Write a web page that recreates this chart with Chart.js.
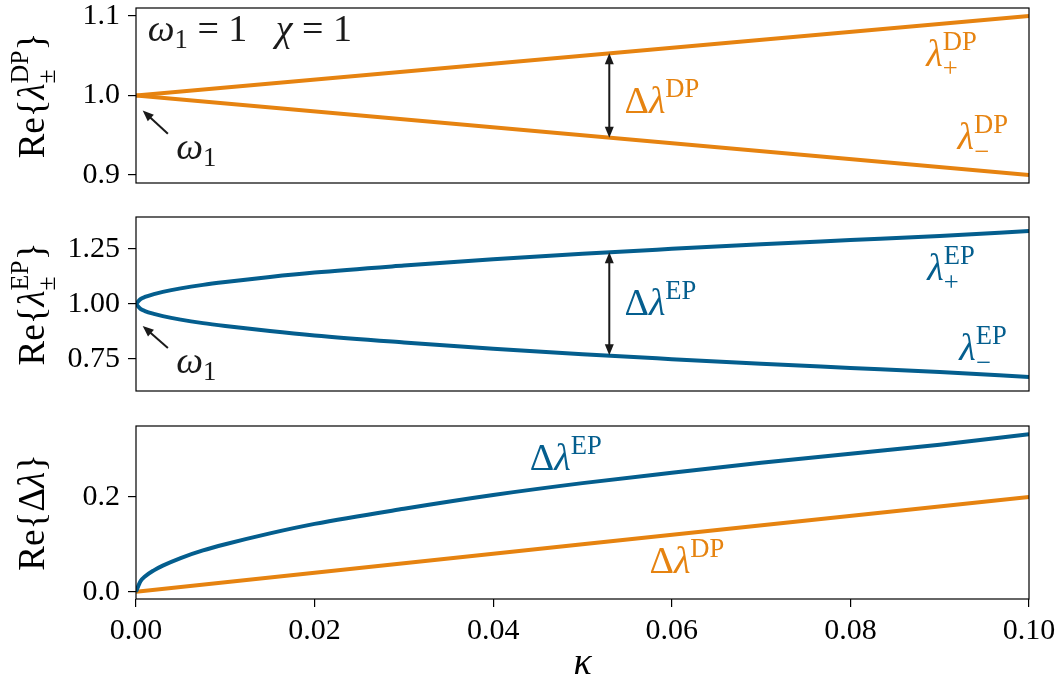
<!DOCTYPE html>
<html lang="en">
<head>
<meta charset="UTF-8">
<title>Re eigenvalues DP vs EP</title>
<script src="https://cdn.jsdelivr.net/npm/chart.js"></script>
<style>
  html, body { margin: 0; padding: 0; background: #fff; }
  #wrap { position: relative; width: 1064px; height: 684px; }
  .panel { position: absolute; left: 0; }
</style>
</head>
<body>
<div id="wrap">
  <canvas id="p1" class="panel" width="1064" height="200" style="top:0"></canvas>
  <canvas id="p2" class="panel" width="1064" height="210" style="top:200px"></canvas>
  <canvas id="p3" class="panel" width="1064" height="274" style="top:410px"></canvas>
</div>

<script>
    // --- data ---
    const kappa = [0, 0.0005, 0.001, 0.002, 0.003, 0.005, 0.0075, 0.01, 0.015, 0.02,
                   0.03, 0.04, 0.05, 0.06, 0.07, 0.08, 0.09, 0.10];
    const epUpper = [1.000, 1.022, 1.032, 1.045, 1.055, 1.071, 1.087, 1.100, 1.123, 1.143,
                     1.175, 1.204, 1.229, 1.251, 1.272, 1.291, 1.310, 1.332];
    const epLower = [1.000, 0.978, 0.968, 0.955, 0.945, 0.929, 0.913, 0.900, 0.877, 0.857,
                     0.825, 0.796, 0.771, 0.749, 0.728, 0.709, 0.690, 0.668];
    const epDelta = [0, 0.022, 0.032, 0.045, 0.055, 0.071, 0.087, 0.100, 0.123, 0.143,
                     0.175, 0.204, 0.229, 0.251, 0.272, 0.291, 0.310, 0.332];

    const kappaDP = [0, 0.10];
    const dpUpper = [1.0, 1.1];
    const dpLower = [1.0, 0.9];
    const dpDelta = [0, 0.2];

    const xTicks = [0, 0.02, 0.04, 0.06, 0.08, 0.10];
    const xTickLabels = ['0.00', '0.02', '0.04', '0.06', '0.08', '0.10'];
    const yTicks1 = [0.9, 1.0, 1.1];
    const yTickLabels1 = ['0.9', '1.0', '1.1'];
    const yTicks2 = [0.75, 1.0, 1.25];
    const yTickLabels2 = ['0.75', '1.00', '1.25'];
    const yTicks3 = [0, 0.2];
    const yTickLabels3 = ['0.0', '0.2'];

    const ORANGE = '#E68310';
    const BLUE = '#045E8E';
    const INK = '#1a1a1a';
    const FONT = '"Liberation Serif", "DejaVu Serif", serif';
    const NOTE_SIZE = 38;

    const pts = (xs, ys) => xs.map((x, i) => ({ x: x, y: ys[i] }));

    // --- tiny math-text helper (sub/superscripts) ---
    function fnt(it, size) { return (it ? 'italic ' : '') + size + 'px ' + FONT; }

    function mathWidth(ctx, parts, S) {
        let w = 0;
        parts.forEach(p => {
            if (p.t !== undefined) { ctx.font = fnt(p.it, S); w += ctx.measureText(p.t).width; }
            else {
                ctx.font = fnt(false, S * 0.7);
                const a = p.sup ? ctx.measureText(p.sup).width : 0;
                const b = p.sub ? ctx.measureText(p.sub).width : 0;
                w += Math.max(a, b);
            }
        });
        return w;
    }

    function drawMath(ctx, parts, x, y, S, color, align) {
        ctx.save();
        ctx.fillStyle = color;
        ctx.textBaseline = 'alphabetic';
        ctx.textAlign = 'left';
        let cx = align === 'center' ? x - mathWidth(ctx, parts, S) / 2 : x;
        parts.forEach(p => {
            if (p.t !== undefined) {
                ctx.font = fnt(p.it, S);
                ctx.fillText(p.t, cx, y);
                cx += ctx.measureText(p.t).width;
            } else {
                ctx.font = fnt(false, S * 0.7);
                let ws = 0;
                if (p.sup) {
                    ctx.fillText(p.sup, cx, y - S * 0.42);
                    ws = ctx.measureText(p.sup).width;
                }
                if (p.sub) {
                    ctx.fillText(p.sub, cx, y + S * (p.sup ? 0.30 : 0.18));
                    ws = Math.max(ws, ctx.measureText(p.sub).width);
                }
                cx += ws;
            }
        });
        ctx.restore();
    }

    function arrow(ctx, x1, y1, x2, y2, both) {
        const head = (xa, ya, xb, yb) => {
            // head at (xb, yb), pointing from a to b
            const ang = Math.atan2(yb - ya, xb - xa);
            const L = 11, H = 4.5;
            ctx.beginPath();
            ctx.moveTo(xb, yb);
            ctx.lineTo(xb - L * Math.cos(ang) + H * Math.sin(ang), yb - L * Math.sin(ang) - H * Math.cos(ang));
            ctx.lineTo(xb - L * Math.cos(ang) - H * Math.sin(ang), yb - L * Math.sin(ang) + H * Math.cos(ang));
            ctx.closePath();
            ctx.fill();
        };
        ctx.save();
        ctx.strokeStyle = INK;
        ctx.fillStyle = INK;
        ctx.lineWidth = 2;
        const ang = Math.atan2(y2 - y1, x2 - x1);
        const sx = both ? x1 + 8 * Math.cos(ang) : x1, sy = both ? y1 + 8 * Math.sin(ang) : y1;
        ctx.beginPath();
        ctx.moveTo(sx, sy);
        ctx.lineTo(x2 - 8 * Math.cos(ang), y2 - 8 * Math.sin(ang));
        ctx.stroke();
        head(x1, y1, x2, y2);
        if (both) head(x2, y2, x1, y1);
        ctx.restore();
    }

    // notes are placed in data coordinates of each panel
    const lam = { t: 'λ', it: true };
    const notes1 = [
        { at: [0.00132, 1.068], parts: [{ t: 'ω', it: true }, { sub: '1' }, { t: ' = 1   ' }, { t: 'χ', it: true }, { t: ' = 1' }], color: INK },
        { at: [0.0045, 0.920], parts: [{ t: 'ω', it: true }, { sub: '1' }], color: INK },
        { at: [0.0547, 0.978], parts: [{ t: 'Δ' }, lam, { sup: 'DP' }], color: ORANGE },
        { at: [0.0885, 1.037], parts: [lam, { sub: '+', sup: 'DP' }], color: ORANGE },
        { at: [0.0920, 0.933], parts: [lam, { sub: '−', sup: 'DP' }], color: ORANGE }
    ];
    const arrows1 = [
        { from: [0.00357, 0.952], to: [0.00075, 0.981], both: false },
        { from: [0.053, 0.947], to: [0.053, 1.053], both: true }
    ];
    const notes2 = [
        { at: [0.0045, 0.686], parts: [{ t: 'ω', it: true }, { sub: '1' }], color: INK },
        { at: [0.0547, 0.950], parts: [{ t: 'Δ' }, lam, { sup: 'EP' }], color: BLUE },
        { at: [0.0886, 1.110], parts: [lam, { sub: '+', sup: 'EP' }], color: BLUE },
        { at: [0.0922, 0.745], parts: [lam, { sub: '−', sup: 'EP' }], color: BLUE }
    ];
    const arrows2 = [
        { from: [0.00357, 0.800], to: [0.00075, 0.900], both: false },
        { from: [0.053, 0.767], to: [0.053, 1.235], both: true }
    ];
    const notes3 = [
        { at: [0.0441, 0.256], parts: [{ t: 'Δ' }, lam, { sup: 'EP' }], color: BLUE },
        { at: [0.0575, 0.039], parts: [{ t: 'Δ' }, lam, { sup: 'DP' }], color: ORANGE }
    ];

    function panelPlugin(yLabel, notes, arrows, withKappa) {
        return {
            id: 'panelDeco',
            afterDraw(chart) {
                const ctx = chart.ctx, a = chart.chartArea;
                const xs = chart.scales.x, ys = chart.scales.y;
                // frame
                ctx.save();
                ctx.strokeStyle = '#000';
                ctx.lineWidth = 1.2;
                ctx.strokeRect(a.left, a.top, a.right - a.left, a.bottom - a.top);
                ctx.restore();
                // rotated y label
                ctx.save();
                ctx.translate(44, (a.top + a.bottom) / 2);
                ctx.rotate(-Math.PI / 2);
                drawMath(ctx, yLabel, 0, 0, 37, '#000', 'center');
                ctx.restore();
                notes.forEach(n => drawMath(ctx, n.parts, xs.getPixelForValue(n.at[0]), ys.getPixelForValue(n.at[1]), NOTE_SIZE, n.color, 'left'));
                arrows.forEach(r => arrow(ctx, xs.getPixelForValue(r.from[0]), ys.getPixelForValue(r.from[1]),
                                          xs.getPixelForValue(r.to[0]), ys.getPixelForValue(r.to[1]), r.both));
                if (withKappa) {
                    drawMath(ctx, [{ t: 'κ', it: true }], xs.getPixelForValue(0.05), chart.height - 10, NOTE_SIZE, '#000', 'center');
                }
            }
        };
    }

    function yScale(min, max, ticks, labels) {
        return {
            type: 'linear', min: min, max: max,
            afterFit: s => { s.width = 136; s.paddingTop = 0; s.paddingBottom = 0; },
            afterBuildTicks: s => { s.ticks = ticks.map(v => ({ value: v })); },
            ticks: { callback: (v, i) => labels[i], font: { family: FONT, size: 30 }, color: '#000', padding: 8, autoSkip: false },
            grid: { drawOnChartArea: false, drawTicks: true, tickLength: 8, color: '#000', lineWidth: 1.2 },
            border: { display: false }
        };
    }

    function xScale(show) {
        return {
            type: 'linear', min: 0, max: 0.1, display: show,
            afterFit: s => { if (show) s.height = 85; s.paddingLeft = 0; s.paddingRight = 0; },
            afterBuildTicks: s => { s.ticks = xTicks.map(v => ({ value: v })); },
            ticks: { callback: (v, i) => xTickLabels[i], font: { family: FONT, size: 30 }, color: '#000', padding: 6, autoSkip: false, maxRotation: 0 },
            grid: { drawOnChartArea: false, drawTicks: true, tickLength: 8, color: '#000', lineWidth: 1.2 },
            border: { display: false }
        };
    }

    function line(data, color) {
        return { data: data, borderColor: color, borderWidth: 4, pointRadius: 0, fill: false,
                 cubicInterpolationMode: 'monotone', borderCapStyle: 'butt' };
    }

    function makePanel(id, datasets, y, showX, pad, plugin) {
        return new Chart(document.getElementById(id), {
            type: 'line',
            data: { datasets: datasets },
            options: {
                responsive: false, animation: false,
                layout: { padding: pad },
                plugins: { legend: { display: false }, tooltip: { enabled: false } },
                scales: { x: xScale(showX), y: y }
            },
            plugins: [plugin]
        });
    }

    const lbl = sup => [{ t: 'Re{' }, lam, { sub: '±', sup: sup }, { t: '}' }];

    makePanel('p1',
        [line(pts(kappaDP, dpUpper), ORANGE), line(pts(kappaDP, dpLower), ORANGE)],
        yScale(0.89, 1.11, yTicks1, yTickLabels1), false,
        { left: 0, right: 35, top: 8, bottom: 17 },
        panelPlugin(lbl('DP'), notes1, arrows1, false));

    makePanel('p2',
        [line(pts(kappa, epUpper), BLUE), line(pts(kappa, epLower), BLUE)],
        yScale(0.604, 1.396, yTicks2, yTickLabels2), false,
        { left: 0, right: 35, top: 17, bottom: 19 },
        panelPlugin(lbl('EP'), notes2, arrows2, false));

    makePanel('p3',
        [line(pts(kappa, epDelta), BLUE), line(pts(kappaDP, dpDelta), ORANGE)],
        yScale(-0.0154, 0.3495, yTicks3, yTickLabels3), true,
        { left: 0, right: 35, top: 16, bottom: 0 },
        panelPlugin([{ t: 'Re{' }, { t: 'Δ' }, lam, { t: '}' }], notes3, [], true));
</script>
</body>
</html>
